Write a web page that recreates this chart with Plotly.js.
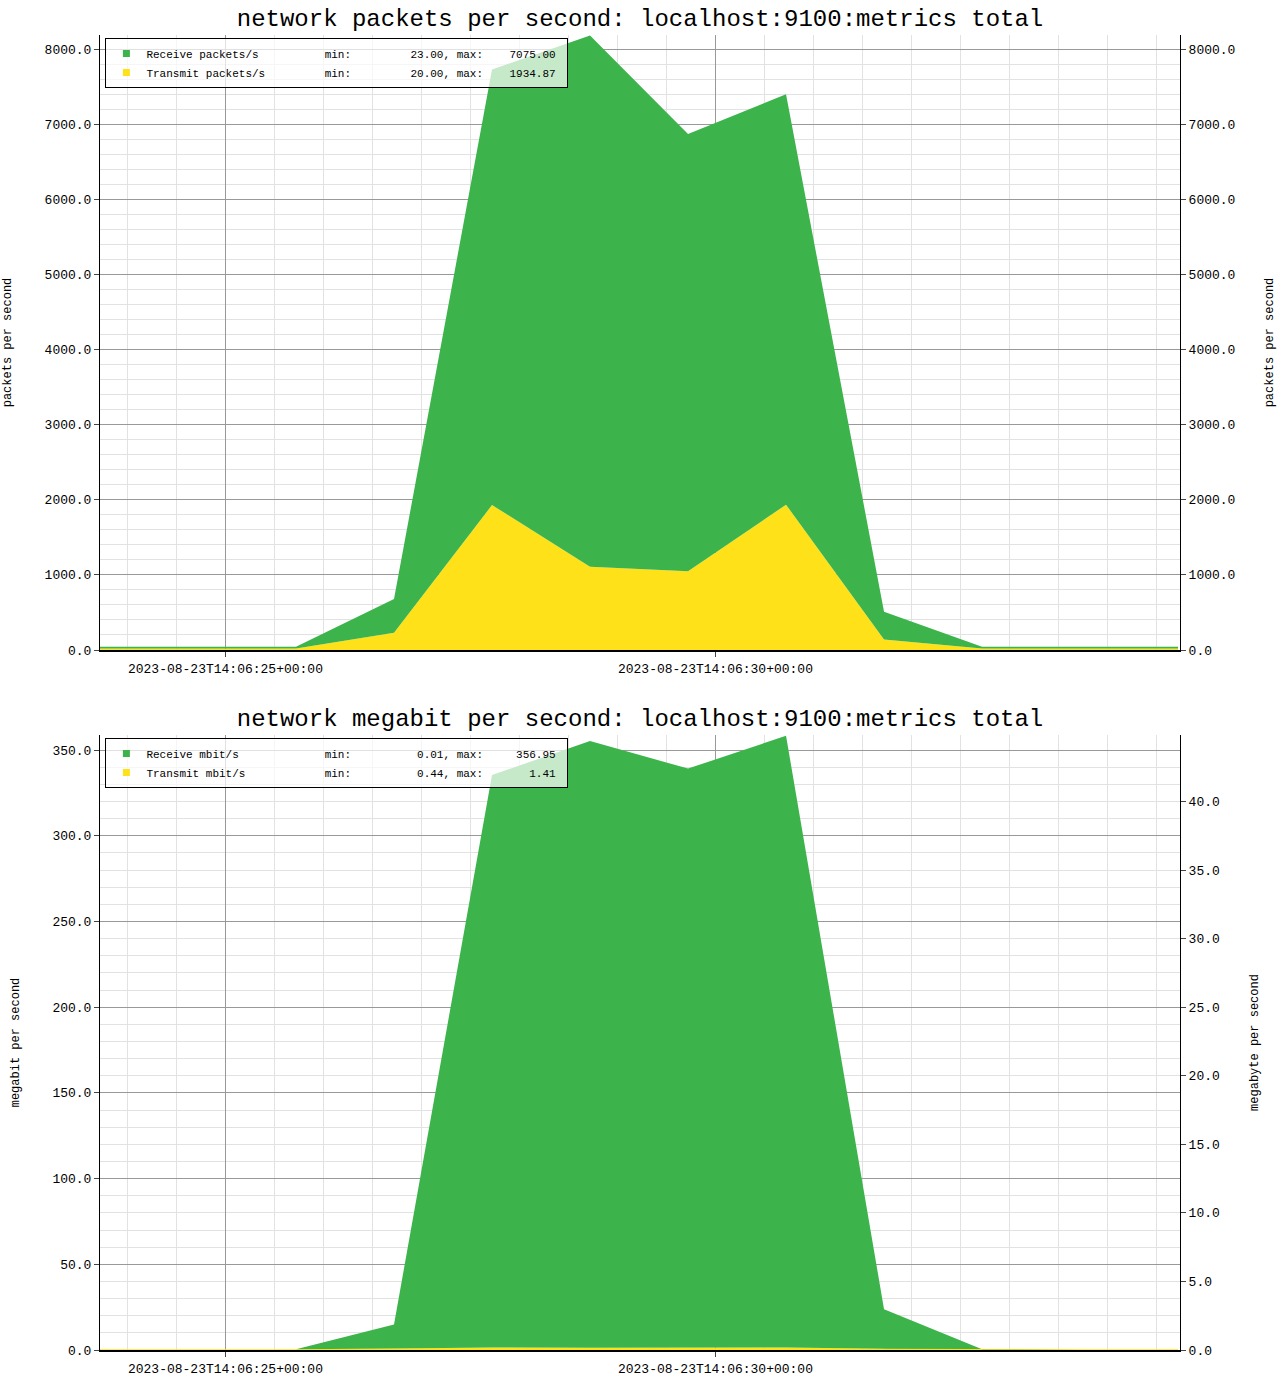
<!DOCTYPE html>
<html><head><meta charset="utf-8">
<script src="https://cdn.plot.ly/plotly-3.0.0.min.js"></script>
<style>body{margin:0;background:#fff}</style>
</head><body>
<div id="pps" style="width:1280px;height:700px"></div>
<div id="mbit" style="width:1280px;height:700px"></div>
<script>
// sample times (one per second)
var times = ['2023-08-23 14:06:23.72','2023-08-23 14:06:24.72','2023-08-23 14:06:25.72','2023-08-23 14:06:26.72',
  '2023-08-23 14:06:27.72','2023-08-23 14:06:28.72','2023-08-23 14:06:29.72','2023-08-23 14:06:30.72',
  '2023-08-23 14:06:31.72','2023-08-23 14:06:32.72','2023-08-23 14:06:33.72','2023-08-23 14:06:34.72'];
var rxPackets = [23, 23, 23, 450, 5800, 7075, 5820, 5466, 370, 23, 23, 23];
var txPackets = [20, 20, 20, 230, 1930, 1110, 1050, 1934.87, 140, 20, 20, 20];
var rxMbit = [0.01, 0.01, 0.01, 14, 334, 354, 338, 356.95, 23, 0.01, 0.01, 0.01];
var txMbit = [0.44, 0.44, 0.44, 0.9, 1.41, 1.3, 1.2, 1.41, 0.8, 0.44, 0.44, 0.44];
var green = '#3cb44b', yellow = '#ffe119';
var mono = 'Liberation Mono, Courier New, monospace';
var pad = function (s, n) { s = String(s); while (s.length < n) s = ' ' + s; return s; };
var nb = function (s) { return s.replace(/ /g, '\u00a0'); };
function legendName(name, mn, mx) {
  var n = name; while (n.length < 27) n += ' ';
  return nb(n + 'min:   ' + pad(mn, 11) + ', max: ' + pad(mx, 10) + ' ');
}

function xaxis() {
  return {range: ['2023-08-23 14:06:23.72', '2023-08-23 14:06:34.74'], type: 'date',
    tick0: '2023-08-23 14:06:25', dtick: 5000, tickformat: '%Y-%m-%dT%H:%M:%S+00:00',
    showgrid: true, gridcolor: '#999', gridwidth: 1, ticks: 'outside', ticklen: 5,
    minor: {dtick: 500, showgrid: true, gridcolor: '#e2e2e2'},
    showline: true, linecolor: '#000', linewidth: 2, zeroline: false,
    tickfont: {family: mono, size: 13, color: '#000'}};
}
function yaxis(range, title, side, dt, mdt) {
  var a = {range: range, title: {text: title, font: {family: mono, size: 12, color: '#000'}, standoff: 30},
    tickformat: '.1f', dtick: dt, ticks: 'outside', ticklen: 5, showline: true, linecolor: '#000',
    zeroline: false, showgrid: side === 'left', gridcolor: '#999',
    tickfont: {family: mono, size: 13, color: '#000'}};
  if (side === 'left') a.minor = {dtick: mdt, showgrid: true, gridcolor: '#e2e2e2'};
  else { a.overlaying = 'y'; a.side = 'right'; }
  return a;
}
function makeLayout(title, y1, y2) {
  return {width: 1280, height: 700, margin: {l: 100, r: 100, t: 35, b: 50},
    paper_bgcolor: '#fff', plot_bgcolor: '#fff',
    title: {text: title, font: {family: mono, size: 24, color: '#000'}, x: 0.5, y: 0.975, yanchor: 'middle'},
    xaxis: xaxis(), yaxis: y1, yaxis2: y2,
    legend: {x: 0.005, y: 0.995, xanchor: 'left', yanchor: 'top', bgcolor: 'rgba(255,255,255,0.7)',
      bordercolor: '#000', borderwidth: 1, font: {family: mono, size: 11, color: '#000'},
      traceorder: 'normal', itemwidth: 30},
    showlegend: true};
}
function area(y, color) {
  return {x: times, y: y, type: 'scatter', mode: 'lines', stackgroup: 'one', showlegend: false,
    line: {width: 0, color: color}, fillcolor: color};
}
function key(name, color) {
  return {x: [times[0]], y: [null], name: name, type: 'scatter', mode: 'markers',
    marker: {symbol: 'square', size: 7, color: color}};
}
function ghost(y) {
  return {x: times, y: y, yaxis: 'y2', type: 'scatter', mode: 'lines', opacity: 0,
    showlegend: false, hoverinfo: 'skip'};
}

var top1 = 8190;
Plotly.newPlot('pps', [
  area(txPackets, yellow), area(rxPackets, green),
  key(legendName('Receive packets/s', '23.00', '7075.00'), green),
  key(legendName('Transmit packets/s', '20.00', '1934.87'), yellow),
  ghost(rxPackets)
], makeLayout('network packets per second: localhost:9100:metrics total',
  yaxis([0, top1], 'packets per second', 'left', 1000, 200),
  yaxis([0, top1], 'packets per second', 'right', 1000)), {staticPlot: true});

var top2 = 358.8;
Plotly.newPlot('mbit', [
  area(txMbit, yellow), area(rxMbit, green),
  key(legendName('Receive mbit/s', '0.01', '356.95'), green),
  key(legendName('Transmit mbit/s', '0.44', '1.41'), yellow),
  ghost(rxMbit.map(function (v) { return v / 8; }))
], makeLayout('network megabit per second: localhost:9100:metrics total',
  yaxis([0, top2], 'megabit per second', 'left', 50, 10),
  yaxis([0, top2 / 8], 'megabyte per second', 'right', 5)), {staticPlot: true});
</script>
</body></html>
